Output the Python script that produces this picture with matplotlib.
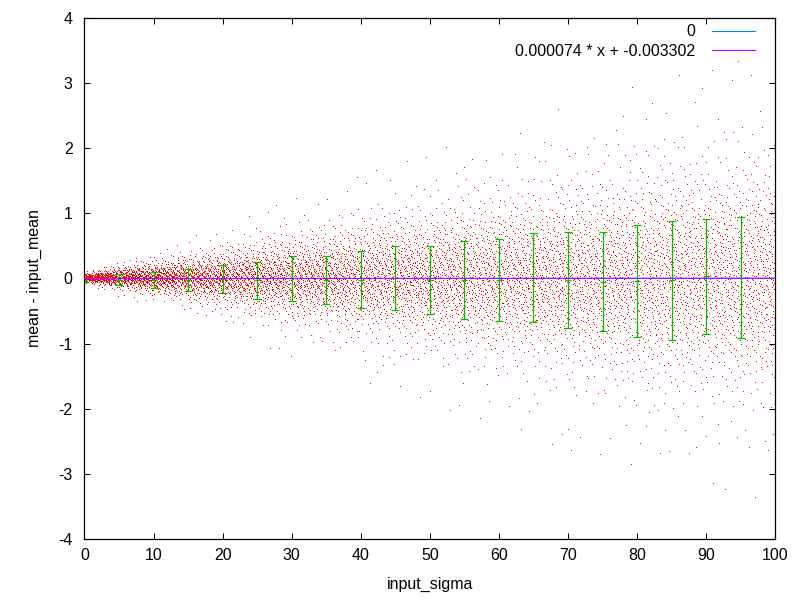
import numpy as np
import matplotlib
matplotlib.use('Agg')
import matplotlib.pyplot as plt

plt.rcParams['font.family'] = ['Liberation Sans', 'DejaVu Sans']
plt.rcParams['axes.unicode_minus'] = False

# error bars (every 5 units of input_sigma)
bar_x = [0, 5, 10, 15, 20, 25, 30, 35, 40, 45, 50, 55, 60, 65, 70, 75, 80, 85, 90, 95]
bar_mean = [-0.02, -0.02, -0.02, -0.02, -0.01, -0.03, 0.0, -0.03, -0.02, 0.005, -0.02,
            -0.02, -0.02, 0.01, -0.02, -0.05, -0.04, -0.03, 0.03, 0.01]
bar_err = [0.03, 0.08, 0.12, 0.17, 0.22, 0.28, 0.34, 0.37, 0.44, 0.49, 0.52,
           0.60, 0.63, 0.68, 0.74, 0.76, 0.86, 0.91, 0.88, 0.93]

# fitted line from the legend
fit_a = 0.000074
fit_b = -0.003302


def halton(n, base):
    # van der Corput sequence in the given base
    out = np.zeros(n)
    for k in range(n):
        f, r, i = 1.0, 0.0, k + 1
        while i > 0:
            f /= base
            r += f * (i % base)
            i //= base
        out[k] = r
    return out


# the point cloud: too many dots to read one by one, so they are laid out
# with fixed Halton sequences (index-shuffled) inside the spread read above
n_pts = 8000
px = 100 * halton(n_pts, 3)
perm = (np.arange(n_pts) * 7919) % n_pts
u = np.clip(halton(n_pts, 5)[perm], 0.0015, 0.9985)
spread = np.interp(px, bar_x + [100], bar_err + [0.96])
py = spread * 0.5513 * np.log(u / (1 - u))

fig = plt.figure(figsize=(8, 6), dpi=100)
ax = fig.add_axes([0.1056, 0.102, 0.969 - 0.1056, 0.97 - 0.102])

ax.plot(px, py, ',', color='#ff0000', zorder=1)
ax.errorbar(bar_x, bar_mean, yerr=bar_err, fmt='_', color='#00c000', ms=5,
            elinewidth=0.9, capsize=2.6, capthick=0.9, mew=0.9, zorder=2)

xs = np.array([0, 100])
ax.plot(xs, [0, 0], color='#0080ff', lw=0.8, label='0', zorder=3)
ax.plot(xs, fit_a * xs + fit_b, color='#c000ff', lw=0.8,
        label='0.000074 * x + -0.003302', zorder=4)

ax.set_xlim(0, 100)
ax.set_ylim(-4, 4)
ax.set_xticks(range(0, 101, 10))
ax.set_yticks(range(-4, 5))
ax.tick_params(direction='in', length=4.3, width=0.75, labelsize=11.5,
               top=True, right=True, pad=6.5)
ax.tick_params(axis='y', pad=8.5)
for s in ax.spines.values():
    s.set_linewidth(0.9)

ax.set_xlabel('input_sigma', fontsize=11.5, labelpad=10)
ax.set_ylabel('mean - input_mean', fontsize=11.5, labelpad=12)

ax.legend(loc='upper right', bbox_to_anchor=(0.971, 0.988), frameon=False,
          markerfirst=False, fontsize=11.5, handlelength=2.7,
          handletextpad=1.05, labelspacing=0.28, borderpad=0, borderaxespad=0)

fig.savefig('out.png', dpi=100)
